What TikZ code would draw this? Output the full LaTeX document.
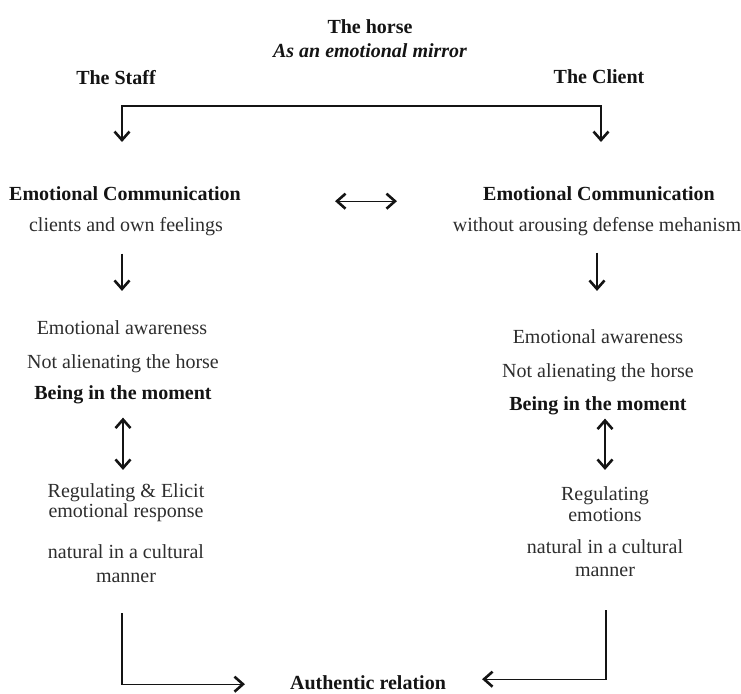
\documentclass[tikz,border=0pt]{standalone}
\usepackage{fontspec}
\setmainfont{Liberation Serif}
\usepackage{tikz}
\usetikzlibrary{arrows.meta}
\definecolor{ink}{RGB}{20,20,20}
\definecolor{softink}{RGB}{45,45,45}

\tikzset{
  txt/.style={anchor=base, inner sep=0pt, text=softink, font=\fontsize{20}{23}\selectfont},
  bld/.style={txt, text=ink, font=\fontsize{20}{23}\selectfont\bfseries},
  barb/.tip={Straight Barb[length=8.5pt,width=15pt,line width=2.6pt]},
  arr/.style={ink, line width=1.3pt, -barb},
  darr/.style={ink, line width=1.3pt, barb-barb}
}

\begin{document}
\begin{tikzpicture}[x=1pt, y=-1pt]
    \useasboundingbox (0,0) rectangle (741,693);
    % Header
    \node[bld] (horse) at (370,34) {The horse};
    \node[bld, font=\fontsize{20}{23}\selectfont\bfseries\itshape] (mirror) at (370,57) {As an emotional mirror};
    \node[bld] (staff) at (116,84) {The Staff};
    \node[bld] (client) at (599,83) {The Client};
    \coordinate (brL) at (122,142);
    \coordinate (brR) at (601,142);
    \draw[darr] (brL) -- ++(0,-36) -| (brR);

    % Staff column
    \node[bld] (ecL) at (125,200) {Emotional Communication};
    \node[txt] (feelL) at (126,231) {clients and own feelings};
    \node[txt] (awareL) at (122,334) {Emotional awareness};
    \node[txt] (alienL) at (123,368) {Not alienating the horse};
    \node[bld] (beingL) at (123,399) {Being in the moment};
    \node[txt] (regL) at (126,497) {Regulating \& Elicit};
    \node[txt] (respL) at (126,517) {emotional response};
    \node[txt] (natL) at (126,558) {natural in a cultural};
    \node[txt] (mannerL) at (126,582) {manner};

    % Client column
    \node[bld] (ecR) at (599,200) {Emotional Communication};
    \node[txt] (defR) at (597,231) {without arousing defense mehanism};
    \node[txt] (awareR) at (598,343) {Emotional awareness};
    \node[txt] (alienR) at (598,377) {Not alienating the horse};
    \node[bld] (beingR) at (598,410) {Being in the moment};
    \node[txt] (regR) at (605,500) {Regulating};
    \node[txt] (emoR) at (605,521) {emotions};
    \node[txt] (natR) at (605,553) {natural in a cultural};
    \node[txt] (mannerR) at (605,576) {manner};

    % Outcome
    \node[bld] (auth) at (368,689) {Authentic relation};
    \coordinate (outL) at (122,613);
    \coordinate (outR) at (606,610);

    % Connectors
    \draw[darr, shorten <=94pt, shorten >=86pt] ([yshift=-8pt]ecL.east) -- ([yshift=-8pt]ecR.west);
    \draw[arr, shorten <=18pt, shorten >=29pt] (feelL.south -| brL) -- (awareL.north -| brL);
    \draw[arr, shorten <=17pt, shorten >=38pt] (defR.south) -- (defR.south |- awareR.north);
    \draw[darr, shorten <=14pt, shorten >=13pt] (beingL.south) -- (beingL.south |- regL.north);
    \draw[darr, shorten <=4pt, shorten >=16pt] (beingR.south -| regR.north) -- (regR.north);
    \draw[arr, shorten >=45pt] (outL) |- ([yshift=-2pt]auth.west);
    \draw[arr, shorten >=36pt] (outR) |- ([yshift=3pt]auth.east);
\end{tikzpicture}
\end{document}
